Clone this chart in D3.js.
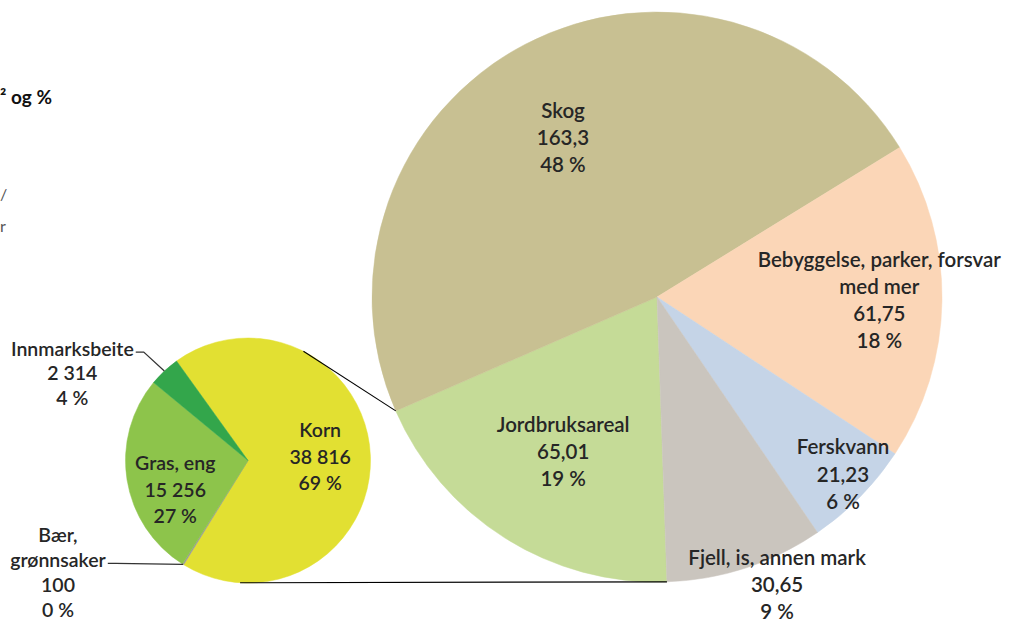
<!DOCTYPE html>
<html><head><meta charset="utf-8">
<script src="https://cdn.jsdelivr.net/npm/d3@7"></script>
<style>
body{margin:0;background:#fff}
svg{display:block}
text{font-family:Lato,"Open Sans",sans-serif}
</style>
</head><body>
<svg id="c" width="1009" height="622"></svg>
<script>
// ---- data ----
const mainCategories = ["Jordbruksareal", "Skog", "Bebyggelse, parker, forsvar\nmed mer", "Ferskvann", "Fjell, is, annen mark"];
const mainValues = [65.01, 163.3, 61.75, 21.23, 30.65];
const mainValueLabels = ["65,01", "163,3", "61,75", "21,23", "30,65"];
const mainPercentLabels = ["19 %", "48 %", "18 %", "6 %", "9 %"];

const subCategories = ["Korn", "Bær,\ngrønnsaker", "Gras, eng", "Innmarksbeite"];
const subValues = [38816, 100, 15256, 2314];
const subValueLabels = ["38 816", "100", "15 256", "2 314"];
const subPercentLabels = ["69 %", "0 %", "27 %", "4 %"];

const titleFragments = ["² og %", "/", "r"];

// ---- layout / style ----
const mainColors = ["#c5db97", "#c8c092", "#fbd6b7", "#c5d4e7", "#cac5be"];
const subColors = ["#e2e032", "#9a9a9a", "#8dc44b", "#33a64b"];
const mainPie = {cx: 657, cy: 297, r: 285, start: 178, font: 20.5, lineH: 27.2};
const subPie = {cx: 248, cy: 460.5, r: 122.5, start: 324.3, font: 19.5, lineH: 26.5};
const mainLabelPlacement = [
  {da: -1.0, k: 0.635},
  {da: -3.0, k: 0.648},
  {da: 0, k: 0.78},
  {da: -0.9, k: 0.902},
  {da: -4.5, k: 1.095}
];
const subLabelPlacement = [
  {da: -0.8, k: 0.59},
  {da: 27.4, k: 1.802, leader: 1, lineH: 25},
  {da: -12.8, k: 0.64},
  {da: -20.6, k: 1.60, leader: 0, lineH: 24.5}
];
const connectorSubAngles = [26.9, 183.7];
const textColor = "#262626";

const rad = d => d * Math.PI / 180;
const svg = d3.select("#c");

function polar(p, angRad, dist) {
  return [p.cx + dist * Math.sin(angRad), p.cy - dist * Math.cos(angRad)];
}

function drawPie(p, values, colors) {
  const pie = d3.pie().sort(null).value(d => d)
    .startAngle(rad(p.start)).endAngle(rad(p.start) + 2 * Math.PI);
  const arcs = pie(values);
  const arc = d3.arc().innerRadius(0).outerRadius(p.r);
  svg.append("g").attr("transform", `translate(${p.cx},${p.cy})`)
    .selectAll("path").data(arcs).join("path")
    .attr("d", arc).attr("fill", (d, i) => colors[i])
    .attr("stroke", (d, i) => colors[i]).attr("stroke-width", 0.5);
  return arcs;
}

function drawLabel(x, y, lines, font, lineH) {
  const n = lines.length;
  const t = svg.append("text").attr("text-anchor", "middle")
    .attr("font-size", font).attr("font-weight", 600).attr("fill", textColor);
  const y0 = y - (n - 1) / 2 * lineH;
  lines.forEach((s, i) => {
    t.append("tspan").attr("x", x).attr("y", y0 + i * lineH).attr("dy", "0.35em").text(s);
  });
  return {node: t, y0};
}

const mainArcs = drawPie(mainPie, mainValues, mainColors);
const subArcs = drawPie(subPie, subValues, subColors);

// connector lines between sub pie and the split slice (first main slice)
const split = mainArcs[0];
const conn = [
  [polar(subPie, rad(connectorSubAngles[0]), subPie.r), polar(mainPie, split.endAngle, mainPie.r)],
  [polar(subPie, rad(connectorSubAngles[1]), subPie.r), polar(mainPie, split.startAngle, mainPie.r)]
];
conn.forEach(c => {
  svg.append("line").attr("x1", c[0][0]).attr("y1", c[0][1]).attr("x2", c[1][0]).attr("y2", c[1][1])
    .attr("stroke", "#000").attr("stroke-width", 1.1);
});

// main labels
mainArcs.forEach((a, i) => {
  const pl = mainLabelPlacement[i];
  const mid = (a.startAngle + a.endAngle) / 2;
  const [x, y] = polar(mainPie, mid + rad(pl.da), pl.k * mainPie.r);
  drawLabel(x, y, [...mainCategories[i].split("\n"), mainValueLabels[i], mainPercentLabels[i]],
    mainPie.font, mainPie.lineH);
});

// sub labels
subArcs.forEach((a, i) => {
  const pl = subLabelPlacement[i];
  const lh = pl.lineH || subPie.lineH;
  const mid = (a.startAngle + a.endAngle) / 2;
  const [x, y] = polar(subPie, mid + rad(pl.da), pl.k * subPie.r);
  const lines = [...subCategories[i].split("\n"), subValueLabels[i], subPercentLabels[i]];
  const lab = drawLabel(x, y, lines, subPie.font, lh);
  if (pl.leader !== undefined) {
    const tsp = lab.node.selectAll("tspan").nodes()[pl.leader];
    const w = tsp.getComputedTextLength();
    const ly = lab.y0 + pl.leader * lh + 3;
    const sx = x + w / 2 + 2;
    const end = polar(subPie, mid, subPie.r);
    const pts = [[sx, ly], [sx + 8, ly], end];
    svg.append("path").attr("d", d3.line()(pts)).attr("fill", "none")
      .attr("stroke", "#333").attr("stroke-width", 1.2);
  }
});

// title fragments (cut off at left edge in the reference)
svg.append("text").attr("x", 0).attr("y", 104).attr("font-size", 19).attr("font-weight", 700)
  .attr("fill", "#111").text(titleFragments[0]);
svg.append("text").attr("x", 0).attr("y", 200).attr("font-size", 16)
  .attr("fill", "#555").text(titleFragments[1]);
svg.append("text").attr("x", 0).attr("y", 232).attr("font-size", 16)
  .attr("fill", "#555").text(titleFragments[2]);
</script>
</body></html>
